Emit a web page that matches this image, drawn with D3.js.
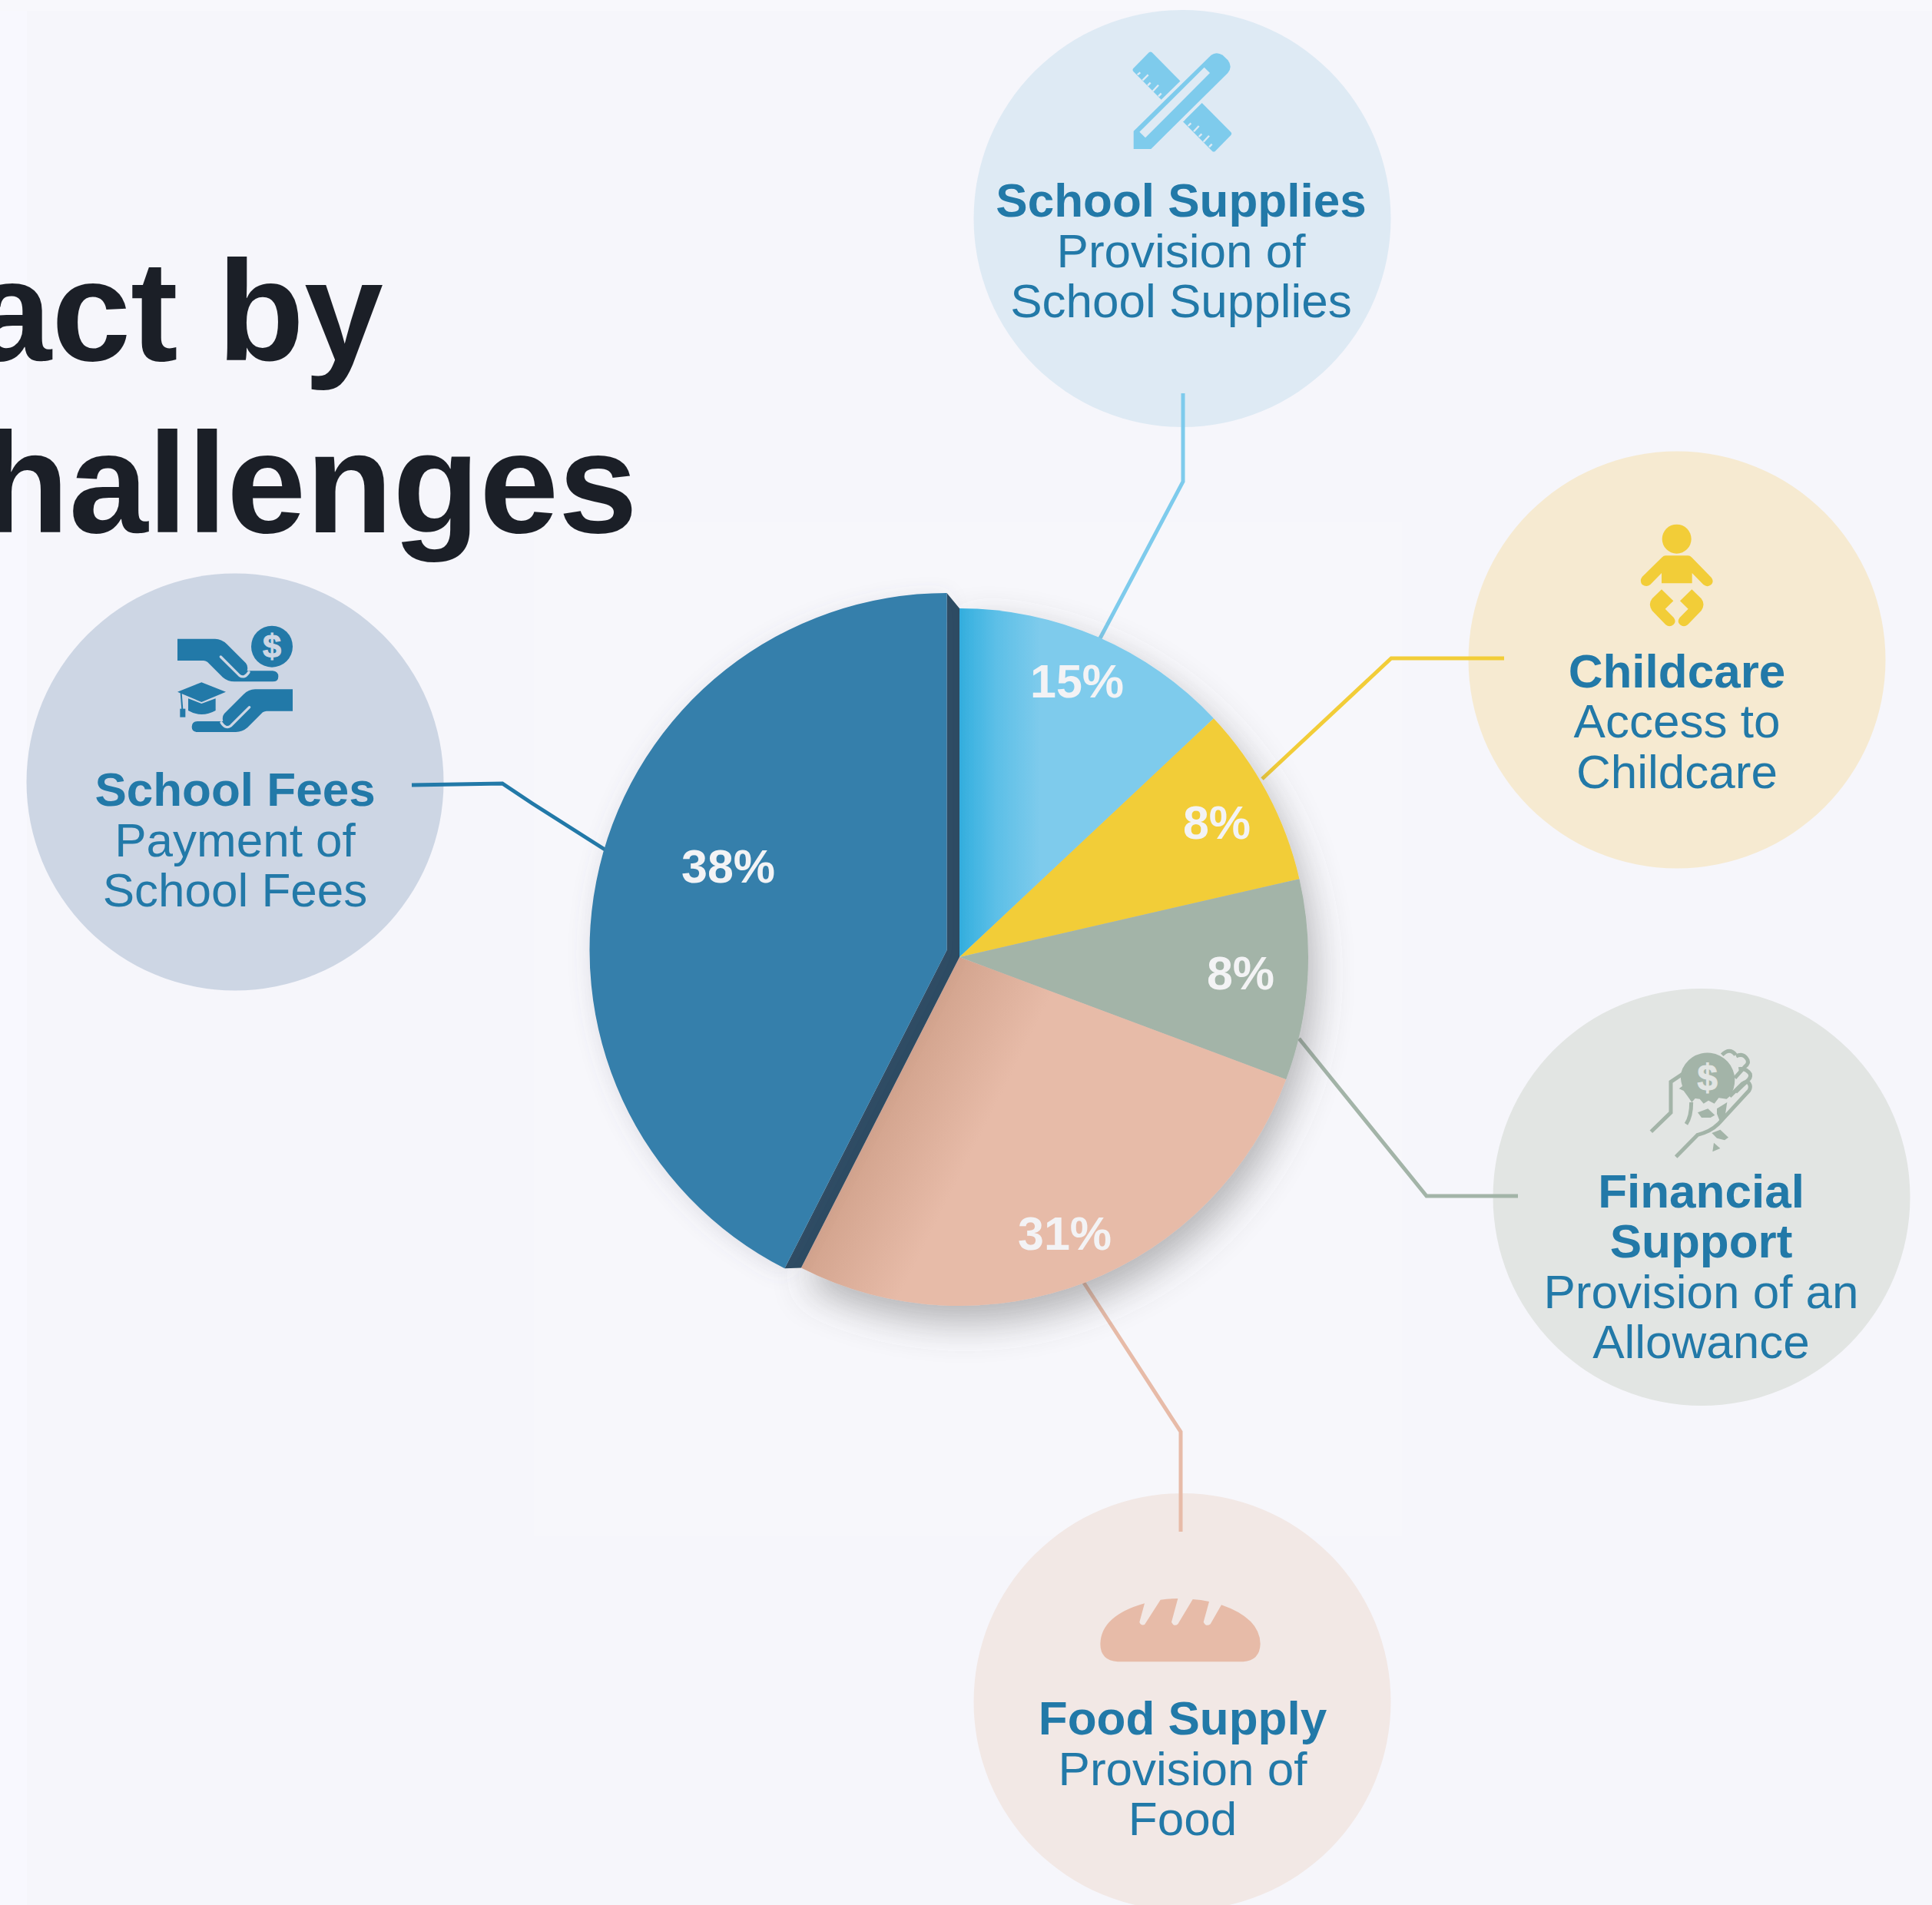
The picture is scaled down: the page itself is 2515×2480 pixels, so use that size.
<!DOCTYPE html>
<html>
<head>
<meta charset="utf-8">
<script src="https://cdn.jsdelivr.net/npm/d3@7"></script>
<style>
html,body{margin:0;padding:0;background:#f6f6fb;overflow:hidden}
text{font-family:"Liberation Sans",Arial,sans-serif}
</style>
</head>
<body>
<svg id="canvas"></svg>
<script>
let width=2515,height=2480

// printed labels do not agree with the drawn slices, so both are kept
const sliceNames = ["School Supplies","Childcare","Financial Support","Food Supply","School Fees"]
const sliceLabels = ["15%","8%","8%","31%","38%"]
const sliceShares = [13.0,8.4,9.3,26.8,42.5]
const sliceColors = ["#7ecbec","#f2cd38","#a3b4a8","#e7bba8","#347fab"]
const cardColors = ["#deeaf4","#f6ead1","#e2e5e3","#f2e8e5","#cdd6e4"]
const cardTitles = [["School Supplies"],["Childcare"],["Financial","Support"],["Food Supply"],["School Fees"]]
const cardLines = [["Provision of","School Supplies"],["Access to","Childcare"],["Provision of an","Allowance"],["Provision of","Food"],["Payment of","School Fees"]]
const titleLines = ["act by","hallenges"]

// layout, in page pixels
const cx=1249, cy=1246, r=454, rBig=465, bigDx=-16.5, bigDy=-9
const cardR=271.5, lineStep=65.5
const cards = [{x:1539,y:284.5,tx:1537.5,base:282},{x:2183,y:859,tx:2183,base:894.5},{x:2215,y:1558.5,tx:2214.5,base:1571.5},{x:1539,y:2215.5,tx:1539.5,base:2258},{x:306,y:1018,tx:306,base:1049}]
const leaders = [
  [[1540,512],[1540,627],[1432,831]],
  [[1958,857],[1811,857],[1643,1014]],
  [[1976,1557],[1857,1557],[1691,1352]],
  [[1537,1994],[1537,1864],[1411,1670]],
  [[536,1022],[654,1020],[693,1046],[789,1107]]
]
const labelPos = [[1402,886],[1584,1070],[1615,1266],[1386,1605],[948,1127]]
const ink="#2279a8"

let svg = d3.select('#canvas').attr("width",width).attr("height",height).style("display","block")
let defs = svg.append("defs")

let shadow = defs.append("filter").attr("id","shadow").attr("x","-20%").attr("y","-20%").attr("width","140%").attr("height","140%")
shadow.append("feDropShadow").attr("dx",8).attr("dy",22).attr("stdDeviation",24).attr("flood-color","#555").attr("flood-opacity",.42)
let shadowBig = defs.append("filter").attr("id","shadowBig").attr("x","-20%").attr("y","-20%").attr("width","140%").attr("height","140%")
shadowBig.append("feDropShadow").attr("dx",0).attr("dy",6).attr("stdDeviation",14).attr("flood-color","#667").attr("flood-opacity",.16)

// gradients sit in the pie's own coordinates
let gradBlue = defs.append("linearGradient").attr("id","gradBlue").attr("gradientUnits","userSpaceOnUse")
  .attr("x1",0).attr("y1",0).attr("x2",105).attr("y2",0)
gradBlue.append("stop").attr("offset",0).attr("stop-color","#33afdf")
gradBlue.append("stop").attr("offset",.45).attr("stop-color","#5cbfe7")
gradBlue.append("stop").attr("offset",1).attr("stop-color","#7ecbec")

let gradPeach = defs.append("linearGradient").attr("id","gradPeach").attr("gradientUnits","userSpaceOnUse")
  .attr("x1",0).attr("y1",0).attr("x2",130*.89).attr("y2",130*.45)
gradPeach.append("stop").attr("offset",0).attr("stop-color","#d3a48e")
gradPeach.append("stop").attr("offset",1).attr("stop-color","#e7bba8")

// faint page panels, left over from the source export
svg.append("rect").attr("width",width).attr("height",height).attr("fill","#f6f6fb")
svg.append("rect").attr("width",35).attr("height",height).attr("fill","#f8f8fe")
svg.append("rect").attr("width",width).attr("height",14).attr("fill","#f8f8fc")
svg.append("rect").attr("x",695).attr("y",680).attr("width",1130).attr("height",1320).attr("fill","#f7f7fb")

svg.selectAll(".title").data(titleLines).enter().append("text")
  .attr("class","title")
  .attr("x",(d,i)=>i==0?499:830).attr("y",(d,i)=>i==0?469:693)
  .attr("text-anchor","end").attr("font-size",185).attr("font-weight",700).attr("fill","#1b1f27")
  .text(d=>d)

let card = svg.selectAll(".card").data(sliceNames).enter().append("g").attr("class","card")
card.append("circle").attr("cx",(d,i)=>cards[i].x).attr("cy",(d,i)=>cards[i].y).attr("r",cardR)
  .attr("fill",(d,i)=>cardColors[i])

card.each(function(d,i){
  let rows = cardTitles[i].map(t=>({t:t,bold:true})).concat(cardLines[i].map(t=>({t:t,bold:false})))
  d3.select(this).selectAll("text").data(rows).enter().append("text")
    .attr("x",cards[i].tx).attr("y",(row,k)=>cards[i].base+k*lineStep)
    .attr("text-anchor","middle").attr("font-size",62).attr("fill",ink)
    .attr("font-weight",row=>row.bold?700:400)
    .text(row=>row.t)
})

// leaders run over the cards, under the pie
let line = d3.line()
svg.selectAll(".leader").data(leaders).enter().append("path")
  .attr("class","leader").attr("d",d=>line(d)).attr("fill","none")
  .attr("stroke-width",5).attr("stroke",(d,i)=>i==4?ink:sliceColors[i])

let pie = d3.pie().sort(null).value(d=>d)(sliceShares)
let arc = d3.arc().innerRadius(0).outerRadius(r)
let arcBig = d3.arc().innerRadius(0).outerRadius(rBig)

let g = svg.append("g").attr("transform",`translate(${cx},${cy})`)
let rest = g.append("g").attr("filter","url(#shadow)")
rest.selectAll(".slice").data(pie.slice(0,4)).enter().append("path")
  .attr("class","slice").attr("d",arc)
  .attr("fill",(d,i)=>i==0?"url(#gradBlue)":i==3?"url(#gradPeach)":sliceColors[i])

// side wall of the pulled out slice, then the slice
let big = pie[4]
let wall = [
  d3.pointRadial(big.startAngle,rBig).map((v,i)=>v+(i?bigDy:bigDx)),
  d3.pointRadial(big.startAngle,r),
  [0,0],
  d3.pointRadial(big.endAngle,r),
  d3.pointRadial(big.endAngle,rBig).map((v,i)=>v+(i?bigDy:bigDx)),
  [bigDx,bigDy]
]
g.append("path").attr("d",d3.line()(wall)+"Z").attr("fill","#2b4a62")
g.append("path").attr("d",arcBig(big)).attr("transform",`translate(${bigDx},${bigDy})`)
  .attr("fill",sliceColors[4]).attr("filter","url(#shadowBig)")

svg.selectAll(".pct").data(sliceLabels).enter().append("text")
  .attr("class","pct")
  .attr("x",(d,i)=>labelPos[i][0]).attr("y",(d,i)=>labelPos[i][1]+22)
  .attr("text-anchor","middle").attr("font-size",61).attr("font-weight",700).attr("fill","#f3f3f5")
  .text(d=>d)

// icons, traced in 3x crop units
function icon(x,y){ return svg.append("g").attr("transform",`translate(${x},${y}) scale(${1/3})`) }
function dollar(g,x,y,size,fill){
  g.append("text").attr("x",x).attr("y",y).attr("text-anchor","middle").attr("font-size",size)
    .attr("font-weight",700).attr("fill",fill).attr("stroke",fill).attr("stroke-width",3).text("$")
}

// school supplies
let iconA = icon(1430,40), a=sliceColors[0], aBg=cardColors[0]
iconA.append("path").attr("d","M197 85Q203 80 209 85L517 396Q522 402 517 408L456 470Q450 475 444 470L136 159Q131 153 136 147Z").attr("fill",a)
const rulerTicks = [[152,172,163,163],[172,194,194,172],[192,214,203,203],[212,236,234,212],[234,256,245,245],[254,276,276,252],[330,352,350,326],[350,372,361,361],[372,394,392,372],[392,414,403,403],[410,434,432,410],[432,454,443,443]]
iconA.selectAll(".tick").data(rulerTicks).enter().append("line")
  .attr("x1",d=>d[0]).attr("y1",d=>d[1]).attr("x2",d=>d[2]).attr("y2",d=>d[3])
  .attr("stroke",aBg).attr("stroke-width",7)
iconA.append("path").attr("d","M137 392L440 95Q460 80 485 95L505 115Q525 140 505 165L205 462H137Z")
  .attr("fill",a).attr("stroke",aBg).attr("stroke-width",24).style("paint-order","stroke")
iconA.append("path").attr("d","M413 143L435 165L183 418L160 395Z").attr("fill",aBg)

// childcare
let iconB = icon(2100,660), b=sliceColors[1]
iconB.append("circle").attr("cx",248).attr("cy",125).attr("r",57).attr("fill",b)
iconB.append("path").attr("d","M205 190H292Q300 190 307 197L383 275Q395 290 383 303Q368 316 352 303L308 258V298H189V258L145 303Q130 315 113 303Q102 288 113 273L190 197Q197 190 205 190Z").attr("fill",b)
const legPath = "M189 322L235 367L203 398L237 433Q248 450 235 460Q220 472 205 460L152 405Q135 380 152 358Z"
iconB.append("path").attr("d",legPath).attr("fill",b)
iconB.append("path").attr("d",legPath).attr("fill",b).attr("transform","translate(496,0) scale(-1,1)")

// financial support
let iconC = icon(2120,1340), c=sliceColors[2], cBg=cardColors[2]
iconC.append("path").attr("d","M205 170A107 107 0 0 1 415 195Q415 235 395 262L383 272L352 268L335 290L312 278L293 290L278 272L260 270L247 285Q230 260 215 240L197 232L210 222Q200 190 205 170Z").attr("fill",c)
const handStrokes = ["M88 400L165 325V205L225 165","M245 285Q245 340 225 370","M185 498L270 412Q320 400 350 370L470 240Q480 225 470 210Q460 200 445 212L395 262","M365 100Q395 70 418 100","M420 105Q450 90 465 120Q470 135 455 145L415 190","M430 155Q460 150 475 175Q478 190 465 200L418 245"]
iconC.selectAll(".hand").data(handStrokes).enter().append("path")
  .attr("d",d=>d).attr("fill","none").attr("stroke",c).attr("stroke-width",15)
const shards = ["M270 325L310 310L337 335L320 345L285 345Z","M345 310L385 285L375 350L360 368L345 330Z","M325 405L358 392L390 422L375 433L345 425Z","M333 443L358 465L328 478Z"]
iconC.selectAll(".shard").data(shards).enter().append("path").attr("d",d=>d).attr("fill",c)
dollar(iconC,308,238,142,cBg)

// food supply
let iconD = icon(1400,2050)
iconD.append("path").attr("d","M165 340Q97 335 97 270Q100 160 270 112L250 185Q255 200 270 195L332 98Q365 93 400 93L375 185Q385 205 400 193L458 96Q490 97 522 105L500 185Q510 205 527 193L570 118Q720 170 722 270Q720 335 655 340Z").attr("fill",sliceColors[3])

// school fees, lower hand is the upper one mirrored
let iconE = icon(180,780), e=ink, eBg=cardColors[4]
const handPath = "M153 155H300Q325 155 345 175L420 250Q430 262 425 280H525Q547 282 547 302Q547 322 525 322H375Q350 322 330 305L270 245Q262 240 255 240H153Z"
const slitPath = "M322 225L395 298Q415 312 432 285"
;[null,"translate(756,197) scale(-1,1)"].forEach(t=>{
  iconE.append("path").attr("d",handPath).attr("fill",e).attr("transform",t)
  iconE.append("path").attr("d",slitPath).attr("fill","none").attr("stroke",eBg).attr("stroke-width",10)
    .attr("stroke-linecap","round").attr("transform",t)
})
iconE.append("circle").attr("cx",522).attr("cy",185).attr("r",81).attr("fill",e)
dollar(iconE,522,229,130,eBg)
iconE.append("path").attr("d","M247 325L342 362L247 402L153 362Z").attr("fill",e)
iconE.append("path").attr("d","M195 388L247 408L302 388V435Q247 465 195 435Z").attr("fill",e)
iconE.append("path").attr("d","M167 366L172 430").attr("stroke",e).attr("stroke-width",6).attr("fill","none")
iconE.append("rect").attr("x",163).attr("y",428).attr("width",21).attr("height",33).attr("fill",e)
</script>
</body>
</html>
